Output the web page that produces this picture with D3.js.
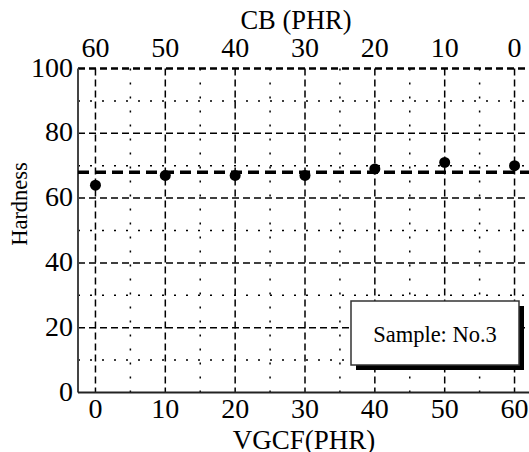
<!DOCTYPE html>
<meta charset="utf-8">
<head>
<style>
body { margin: 0; background: #fff; }
</style>
</head>
<body>
<script src="https://d3js.org/d3.v7.min.js"></script>
<script>
// data
var vgcf = [0, 10, 20, 30, 40, 50, 60];
var hardness = [64, 67, 67, 67, 69, 71, 70];
var cbLabels = [60, 50, 40, 30, 20, 10, 0];
var yTicks = [0, 20, 40, 60, 80, 100];
var avgHardness = 68;
var sampleLabel = "Sample: No.3";

var W = 529, H = 452;
var pLeft = 78, pRight = 532, pTop = 68.5, pBottom = 392.5;
var serif = "'Liberation Serif', 'Times New Roman', Times, serif";

var svg = d3.select("body").append("svg")
    .attr("width", W).attr("height", H)
    .attr("font-family", serif);

var x = d3.scaleLinear().domain([-2.5, 62.5]).range([pLeft, pRight]);
var y = d3.scaleLinear().domain([0, 100]).range([pBottom, pTop]);

// minor grid (dotted)
var g = svg.append("g");
g.selectAll(".vminor").data(d3.range(5, 65, 10)).enter().append("line")
    .attr("x1", d => x(d)).attr("x2", d => x(d))
    .attr("y1", pTop).attr("y2", pBottom)
    .attr("stroke", "#000").attr("stroke-width", 1.5).attr("stroke-dasharray", "2,12");
g.selectAll(".hminor").data(d3.range(10, 100, 20)).enter().append("line")
    .attr("x1", pLeft).attr("x2", pRight)
    .attr("y1", d => y(d)).attr("y2", d => y(d))
    .attr("stroke", "#000").attr("stroke-width", 1.5).attr("stroke-dasharray", "2,10");

// major grid (dashed)
g.selectAll(".vmajor").data(vgcf).enter().append("line")
    .attr("x1", d => x(d)).attr("x2", d => x(d))
    .attr("y1", pTop).attr("y2", pBottom)
    .attr("stroke", "#000").attr("stroke-width", 1.5).attr("stroke-dasharray", "7,4");
g.selectAll(".hmajor").data(yTicks.slice(1)).enter().append("line")
    .attr("x1", pLeft).attr("x2", pRight)
    .attr("y1", d => y(d)).attr("y2", d => y(d))
    .attr("stroke", "#000").attr("stroke-width", d => d == 100 ? 2.5 : 1.5)
    .attr("stroke-dasharray", "7,4");

// frame: left + bottom
svg.append("line").attr("x1", pLeft).attr("x2", pLeft).attr("y1", pTop).attr("y2", pBottom)
    .attr("stroke", "#444").attr("stroke-width", 2);
svg.append("line").attr("x1", pLeft).attr("x2", pRight).attr("y1", pBottom).attr("y2", pBottom)
    .attr("stroke", "#222").attr("stroke-width", 2);

// average line
svg.append("line")
    .attr("x1", pLeft).attr("x2", pRight)
    .attr("y1", y(avgHardness)).attr("y2", y(avgHardness))
    .attr("stroke", "#000").attr("stroke-width", 3.5).attr("stroke-dasharray", "11,6");

// points
svg.selectAll(".pt").data(vgcf).enter().append("circle")
    .attr("cx", d => x(d)).attr("cy", (d, i) => y(hardness[i]))
    .attr("r", 5.5).attr("fill", "#000");

// legend box with shadow
var lx = 351, ly = 301, lw = 168, lh = 64;
svg.append("rect").attr("x", lx + 5).attr("y", ly + 5).attr("width", lw).attr("height", lh).attr("fill", "#000");
svg.append("rect").attr("x", lx).attr("y", ly).attr("width", lw).attr("height", lh)
    .attr("fill", "#fff").attr("stroke", "#333").attr("stroke-width", 1.5);
svg.append("text").attr("x", lx + lw / 2).attr("y", ly + 41)
    .attr("text-anchor", "middle").attr("font-size", 22.5).text(sampleLabel);

// tick labels
svg.selectAll(".yl").data(yTicks).enter().append("text")
    .attr("x", pLeft - 5).attr("y", d => y(d) + 8)
    .attr("text-anchor", "end").attr("font-size", 28).text(d => d);
svg.selectAll(".xl").data(vgcf).enter().append("text")
    .attr("x", d => x(d)).attr("y", pBottom + 25.5)
    .attr("text-anchor", "middle").attr("font-size", 28).text(d => d);
svg.selectAll(".tl").data(vgcf).enter().append("text")
    .attr("x", d => x(d)).attr("y", pTop - 12)
    .attr("text-anchor", "middle").attr("font-size", 28).text((d, i) => cbLabels[i]);

// axis titles
svg.append("text").attr("x", 304).attr("y", 449).attr("text-anchor", "middle")
    .attr("font-size", 27).text("VGCF(PHR)");
svg.append("text").attr("x", 296).attr("y", 29).attr("text-anchor", "middle")
    .attr("font-size", 26.5).text("CB (PHR)");
svg.append("text").attr("transform", "translate(27,204) rotate(-90)")
    .attr("text-anchor", "middle").attr("font-size", 22.5).text("Hardness");
</script>
</body>
